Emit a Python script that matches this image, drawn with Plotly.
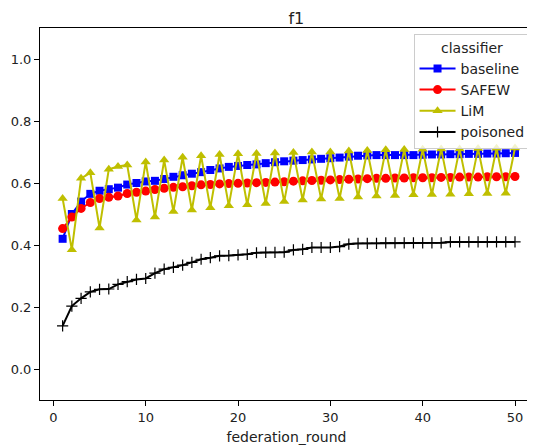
import plotly.graph_objects as go

rounds = list(range(1, 51))

baseline = [0.42, 0.50, 0.54, 0.565, 0.575, 0.58, 0.585, 0.595, 0.60, 0.605,
            0.607, 0.613, 0.62, 0.625, 0.63, 0.635, 0.642, 0.647, 0.652, 0.655,
            0.658, 0.66, 0.664, 0.667, 0.67, 0.672, 0.674, 0.676, 0.678, 0.68,
            0.682, 0.685, 0.688, 0.689, 0.69, 0.69, 0.69, 0.69, 0.69, 0.691,
            0.692, 0.692, 0.693, 0.693, 0.694, 0.694, 0.695, 0.695, 0.696, 0.697]

safew = [0.453, 0.49, 0.518, 0.537, 0.55, 0.554, 0.558, 0.566, 0.57, 0.574,
         0.579, 0.583, 0.586, 0.588, 0.591, 0.594, 0.595, 0.597, 0.598, 0.599,
         0.60, 0.601, 0.602, 0.603, 0.604, 0.606, 0.607, 0.608, 0.609, 0.61,
         0.611, 0.612, 0.613, 0.614, 0.615, 0.615, 0.616, 0.616, 0.617, 0.617,
         0.617, 0.618, 0.618, 0.619, 0.619, 0.619, 0.62, 0.62, 0.62, 0.621]

lim = [0.55, 0.385, 0.615, 0.633, 0.455, 0.644, 0.653, 0.658, 0.481, 0.668,
       0.49, 0.674, 0.508, 0.683, 0.513, 0.688, 0.52, 0.692, 0.527, 0.694,
       0.53, 0.695, 0.534, 0.697, 0.54, 0.698, 0.545, 0.70, 0.548, 0.70,
       0.55, 0.703, 0.555, 0.705, 0.558, 0.707, 0.56, 0.708, 0.562, 0.709,
       0.563, 0.71, 0.564, 0.71, 0.565, 0.711, 0.566, 0.712, 0.567, 0.713]

poisoned = [0.139, 0.203, 0.228, 0.249, 0.257, 0.258, 0.273, 0.282, 0.289, 0.292,
            0.309, 0.322, 0.328, 0.335, 0.344, 0.354, 0.359, 0.365, 0.366, 0.368,
            0.37, 0.375, 0.376, 0.376, 0.377, 0.384, 0.386, 0.392, 0.392, 0.392,
            0.395, 0.403, 0.405, 0.405, 0.405, 0.407, 0.407, 0.407, 0.407, 0.407,
            0.407, 0.407, 0.41, 0.41, 0.41, 0.41, 0.41, 0.41, 0.41, 0.41]

FONT = "DejaVu Sans, Arial"

fig = go.Figure()

series = [
    ("baseline", baseline, "#0000ff", "square", 8),
    ("SAFEW", safew, "#ff0000", "circle", 9),
    ("LiM", lim, "#bfbf00", "triangle-up", 9),
]
for name, vals, col, sym, sz in series:
    fig.add_trace(go.Scatter(
        x=rounds, y=vals, name=name, mode="lines+markers",
        line=dict(color=col, width=2),
        marker=dict(symbol=sym, size=sz, color=col),
    ))

fig.add_trace(go.Scatter(
    x=rounds, y=poisoned, name="poisoned", mode="lines+markers",
    line=dict(color="black", width=2),
    marker=dict(symbol="cross-thin", size=8, color="black",
                line=dict(color="black", width=1.2)),
))

axis_style = dict(
    showline=True, linecolor="black", linewidth=1, mirror=True,
    ticks="outside", ticklen=5, tickcolor="black",
    showgrid=False, zeroline=False, automargin=False,
    tickfont=dict(family=FONT, size=13, color="#222"),
)

# page body has an 8px margin, so margins are shifted to compensate
fig.update_layout(
    width=535, height=448,
    margin=dict(l=32, r=10, t=20, b=56),
    paper_bgcolor="white", plot_bgcolor="white",
    font=dict(family=FONT, size=13, color="#222"),
    title=dict(text="f1", x=0.52, xanchor="center", xref="paper",
               y=0.976, yanchor="middle",
               font=dict(family=FONT, size=16, color="#222")),
    xaxis=dict(axis_style, range=[-1.45, 51.95], tickvals=[0, 10, 20, 30, 40, 50],
               title=dict(text="federation_round", standoff=8,
                          font=dict(family=FONT, size=14, color="#222"))),
    yaxis=dict(axis_style, range=[-0.1, 1.1], tickvals=[0, 0.2, 0.4, 0.6, 0.8, 1.0],
               tickformat=".1f"),
    legend=dict(
        title=dict(text="classifier", side="top center",
                   font=dict(family=FONT, size=14, color="#222")),
        x=0.995, xanchor="right", y=0.985, yanchor="top",
        bgcolor="rgba(255,255,255,0.8)", bordercolor="#cccccc", borderwidth=1,
        font=dict(family=FONT, size=14, color="#222"),
        tracegroupgap=0, itemwidth=36,
    ),
)

fig.write_html("out.html")
